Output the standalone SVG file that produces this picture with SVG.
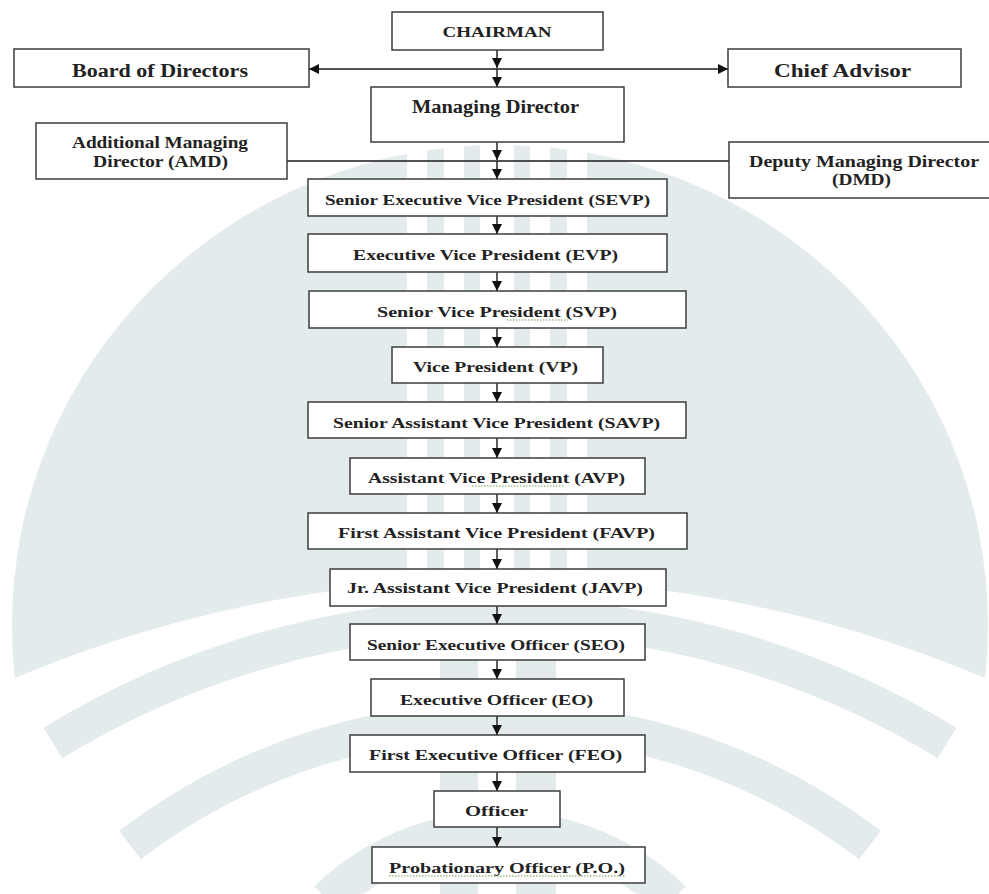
<svg xmlns="http://www.w3.org/2000/svg" width="989" height="894" viewBox="0 0 989 894">
<style>
.wm{fill:#e4ebed}
.wmb{fill:none;stroke:#e4ebed;stroke-linecap:butt}
.box{fill:#ffffff;stroke:#3c3c3c;stroke-width:1.5}
.t{font-family:"Liberation Serif","Times New Roman",serif;font-weight:bold;fill:#222222;text-anchor:middle}
.s15{font-size:15px}
.s16{font-size:16px}
.s18{font-size:18px}
.ln{fill:none;stroke:#1a1a1a;stroke-width:1.4}
.sq{fill:none;stroke:#6f9b52;stroke-width:1.2;stroke-dasharray:1.5 1.5}
</style>
<defs>
<marker id="ah" viewBox="0 0 10 10" refX="10" refY="5" markerWidth="10" markerHeight="10" markerUnits="userSpaceOnUse" orient="auto">
<path d="M0,0 L10,5 L0,10 z" fill="#111111"/>
</marker>
<clipPath id="domeclip">
<path d="M0,0 H1000 V684.6 A1244,1244 0 0,0 0,684.6 Z"/>
</clipPath>
</defs>

<g id="watermark">
<ellipse class="wm" cx="500" cy="625" rx="488" ry="480" clip-path="url(#domeclip)"/>
<g fill="#ffffff">
<rect x="407" y="138" width="20" height="450"/>
<rect x="444" y="138" width="20" height="450"/>
<rect x="480" y="138" width="34" height="450"/>
<rect x="530" y="138" width="20" height="450"/>
<rect x="567" y="138" width="20" height="450"/>
</g>
<path class="wmb" stroke-width="36" d="M53,743 A856,856 0 0,1 947,743"/>
<path class="wmb" stroke-width="36" d="M130,845 A610,610 0 0,1 870,845"/>
<path class="wmb" stroke-width="38" d="M327.6,900 A247.3,247.3 0 0,1 672.4,900"/>
<rect class="wm" x="440" y="585" width="38" height="309"/>
<rect class="wm" x="516" y="585" width="40" height="309"/>
</g>

<g id="connectors">
<line class="ln" x1="497" y1="50" x2="497" y2="68" marker-end="url(#ah)"/>
<line class="ln" x1="497" y1="69" x2="497" y2="87" marker-end="url(#ah)"/>
<line class="ln" x1="497" y1="69" x2="309" y2="69" marker-end="url(#ah)"/>
<line class="ln" x1="497" y1="69" x2="728" y2="69" marker-end="url(#ah)"/>
<line class="ln" x1="287" y1="161" x2="729" y2="161"/>
<line class="ln" x1="497" y1="142" x2="497" y2="160" marker-end="url(#ah)"/>
<line class="ln" x1="497" y1="161" x2="497" y2="179" marker-end="url(#ah)"/>
<line class="ln" x1="497" y1="216" x2="497" y2="234" marker-end="url(#ah)"/>
<line class="ln" x1="497" y1="272" x2="497" y2="291" marker-end="url(#ah)"/>
<line class="ln" x1="497" y1="328" x2="497" y2="347" marker-end="url(#ah)"/>
<line class="ln" x1="497" y1="383" x2="497" y2="402" marker-end="url(#ah)"/>
<line class="ln" x1="497" y1="438" x2="497" y2="458" marker-end="url(#ah)"/>
<line class="ln" x1="497" y1="494" x2="497" y2="513" marker-end="url(#ah)"/>
<line class="ln" x1="497" y1="549" x2="497" y2="569" marker-end="url(#ah)"/>
<line class="ln" x1="497" y1="606" x2="497" y2="624" marker-end="url(#ah)"/>
<line class="ln" x1="497" y1="660" x2="497" y2="679" marker-end="url(#ah)"/>
<line class="ln" x1="497" y1="716" x2="497" y2="735" marker-end="url(#ah)"/>
<line class="ln" x1="497" y1="772" x2="497" y2="791" marker-end="url(#ah)"/>
<line class="ln" x1="497" y1="827" x2="497" y2="847" marker-end="url(#ah)"/>
</g>

<g id="chairman">
<rect class="box" x="392" y="12" width="211" height="38"/>
<text class="t s15" x="497" y="37" textLength="109" lengthAdjust="spacingAndGlyphs">CHAIRMAN</text>
</g>
<g id="board">
<rect class="box" x="14" y="49" width="295" height="38"/>
<text class="t s18" x="160" y="77" textLength="176" lengthAdjust="spacingAndGlyphs">Board of Directors</text>
</g>
<g id="chief-advisor">
<rect class="box" x="728" y="49" width="233" height="38"/>
<text class="t s18" x="842.5" y="77" textLength="137" lengthAdjust="spacingAndGlyphs">Chief Advisor</text>
</g>
<g id="md">
<rect class="box" x="371" y="87" width="253" height="55"/>
<text class="t s18" x="495.5" y="113" textLength="167" lengthAdjust="spacingAndGlyphs">Managing Director</text>
</g>
<g id="amd">
<rect class="box" x="36" y="123" width="251" height="56"/>
<text class="t s16" x="160" y="148" textLength="176" lengthAdjust="spacingAndGlyphs">Additional Managing</text>
<text class="t s16" x="160.5" y="167" textLength="135" lengthAdjust="spacingAndGlyphs">Director (AMD)</text>
</g>
<g id="dmd">
<rect class="box" x="729" y="142" width="267" height="56"/>
<text class="t s16" x="864" y="167" textLength="230" lengthAdjust="spacingAndGlyphs">Deputy Managing Director</text>
<text class="t s16" x="861.5" y="185" textLength="59" lengthAdjust="spacingAndGlyphs">(DMD)</text>
</g>
<g id="sevp">
<rect class="box" x="308" y="179" width="359" height="37"/>
<text class="t s15" x="487.5" y="205" textLength="325" lengthAdjust="spacingAndGlyphs">Senior Executive Vice President (SEVP)</text>
</g>
<g id="evp">
<rect class="box" x="308" y="234" width="359" height="38"/>
<text class="t s15" x="485.5" y="260" textLength="265" lengthAdjust="spacingAndGlyphs">Executive Vice President (EVP)</text>
</g>
<g id="svp">
<rect class="box" x="309" y="291" width="377" height="37"/>
<text class="t s15" x="497" y="317" textLength="240" lengthAdjust="spacingAndGlyphs">Senior Vice President  (SVP)</text>
<line class="sq" x1="507" y1="320" x2="568" y2="320"/>
</g>
<g id="vp">
<rect class="box" x="392" y="347" width="211" height="36"/>
<text class="t s15" x="495.5" y="372" textLength="165" lengthAdjust="spacingAndGlyphs">Vice President (VP)</text>
</g>
<g id="savp">
<rect class="box" x="308" y="402" width="378" height="36"/>
<text class="t s15" x="496.5" y="428" textLength="327" lengthAdjust="spacingAndGlyphs">Senior Assistant Vice President (SAVP)</text>
</g>
<g id="avp">
<rect class="box" x="350" y="458" width="295" height="36"/>
<text class="t s15" x="496.5" y="483" textLength="257" lengthAdjust="spacingAndGlyphs">Assistant Vice President  (AVP)</text>
<line class="sq" x1="472" y1="486" x2="564" y2="486"/>
</g>
<g id="favp">
<rect class="box" x="308" y="513" width="379" height="36"/>
<text class="t s15" x="496.5" y="538" textLength="317" lengthAdjust="spacingAndGlyphs">First Assistant Vice President (FAVP)</text>
</g>
<g id="javp">
<rect class="box" x="330" y="569" width="336" height="37"/>
<text class="t s15" x="495" y="593" textLength="296" lengthAdjust="spacingAndGlyphs">Jr. Assistant Vice President (JAVP)</text>
</g>
<g id="seo">
<rect class="box" x="350" y="624" width="295" height="36"/>
<text class="t s15" x="496" y="650" textLength="258" lengthAdjust="spacingAndGlyphs">Senior Executive Officer (SEO)</text>
</g>
<g id="eo">
<rect class="box" x="371" y="679" width="253" height="37"/>
<text class="t s15" x="496.5" y="705" textLength="193" lengthAdjust="spacingAndGlyphs">Executive Officer (EO)</text>
</g>
<g id="feo">
<rect class="box" x="350" y="735" width="295" height="37"/>
<text class="t s15" x="495.5" y="760" textLength="253" lengthAdjust="spacingAndGlyphs">First Executive Officer (FEO)</text>
</g>
<g id="officer">
<rect class="box" x="434" y="791" width="126" height="36"/>
<text class="t s15" x="496.5" y="816" textLength="63" lengthAdjust="spacingAndGlyphs">Officer</text>
</g>
<g id="po">
<rect class="box" x="372" y="847" width="273" height="36"/>
<text class="t s15" x="507" y="873" textLength="236" lengthAdjust="spacingAndGlyphs">Probationary Officer (P.O.)</text>
<line class="sq" x1="389" y1="876" x2="625" y2="876"/>
</g>
</svg>
